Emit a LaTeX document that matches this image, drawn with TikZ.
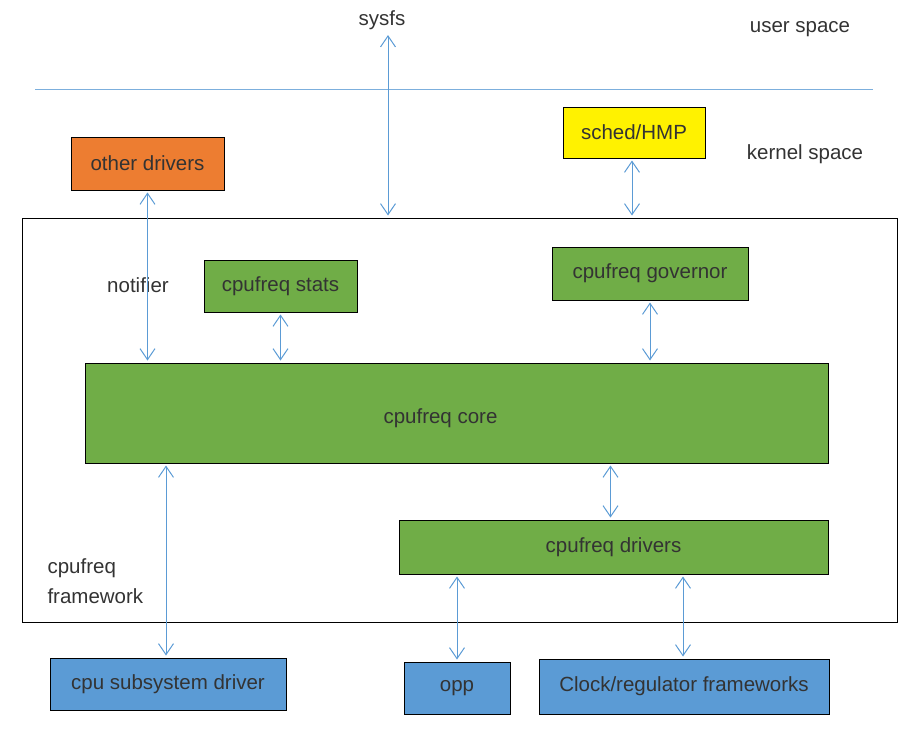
\documentclass[tikz,border=0pt]{standalone}
\usepackage{fontspec}
\setmainfont{Liberation Sans}
\usepackage{tikz}
\usetikzlibrary{shapes, arrows.meta, positioning}

\definecolor{txtgray}{HTML}{333333}
\definecolor{linkblue}{HTML}{5B9BD5}
\definecolor{boxgreen}{HTML}{70AD47}
\definecolor{boxorange}{HTML}{ED7D31}
\definecolor{boxblue}{HTML}{5B9BD5}

\begin{document}
\begin{tikzpicture}[x=1pt, y=-1pt, font=\fontsize{20.5}{30}\selectfont, text=txtgray,
        box/.style={draw, rectangle, line width=1pt, inner sep=0pt},
        link/.style={linkblue, line width=1pt, {Straight Barb[length=11pt, width=15pt]}-{Straight Barb[length=11pt, width=15pt]}, shorten >=2pt, shorten <=2pt}]

        \useasboundingbox (0,0) rectangle (922,734);

        % user space / kernel space
        \node (sysfs) at (382,20) {sysfs};
        \node (user) at (800,29) {user space};
        \node (kernel) at (805,154) {kernel space};
        \draw[linkblue!80, line width=1pt] (35,89) -- (873,89);

        \node (sched) [box, fill=yellow, minimum width=142pt, minimum height=51pt] at (634,132.5) {sched/HMP};
        \node (other) [box, fill=boxorange, minimum width=153pt, minimum height=53pt] at (147.5,163.5) {other drivers};

        % cpufreq framework
        \node (frame) [box, minimum width=875pt, minimum height=404pt] at (459.5,420) {};
        \node (stats) [box, fill=boxgreen, minimum width=153pt, minimum height=52pt] at (280.5,286) {cpufreq stats};
        \node (governor) [box, fill=boxgreen, minimum width=196pt, minimum height=53pt] at (650,273.5) {cpufreq governor};
        \node (core) [box, fill=boxgreen, minimum width=743pt, minimum height=100pt] at (456.5,413) {};
        \node (coretext) at ([shift={(-16,5)}]core.center) {cpufreq core};
        \node (drivers) [box, fill=boxgreen, minimum width=429pt, minimum height=54pt] at (613.5,547) {cpufreq drivers};
        \node (notifier) at (138,285) {notifier};
        \node (framelabel) [anchor=west, align=left] at (44,581) {cpufreq\\framework};

        % outside
        \node (cpusub) [box, fill=boxblue, minimum width=236pt, minimum height=52pt] at (168,684) {cpu subsystem driver};
        \node (opp) [box, fill=boxblue, minimum width=106pt, minimum height=52pt] at (457,688) {opp};
        \node (clock) [box, fill=boxblue, minimum width=290pt, minimum height=55pt] at (684,686.5) {Clock/regulator frameworks};

        \draw[link] ([xshift=6pt]sysfs.south) -- ([xshift=6pt]sysfs.south |- frame.north);
        \draw[link] ([xshift=-2pt]sched.south) -- ([xshift=-2pt]sched.south |- frame.north);
        \draw[link] (other.south) -- (other.south |- core.north);
        \draw[link] (stats.south) -- (stats.south |- core.north);
        \draw[link] (governor.south) -- (governor.south |- core.north);
        \draw[link] ([xshift=-2pt]cpusub.north |- core.south) -- ([xshift=-2pt]cpusub.north);
        \draw[link] ([xshift=-3pt]drivers.north |- core.south) -- ([xshift=-3pt]drivers.north);
        \draw[link] (opp.north |- drivers.south) -- (opp.north);
        \draw[link] ([xshift=-1pt]clock.north |- drivers.south) -- ([xshift=-1pt]clock.north);
    \end{tikzpicture}
\end{document}
